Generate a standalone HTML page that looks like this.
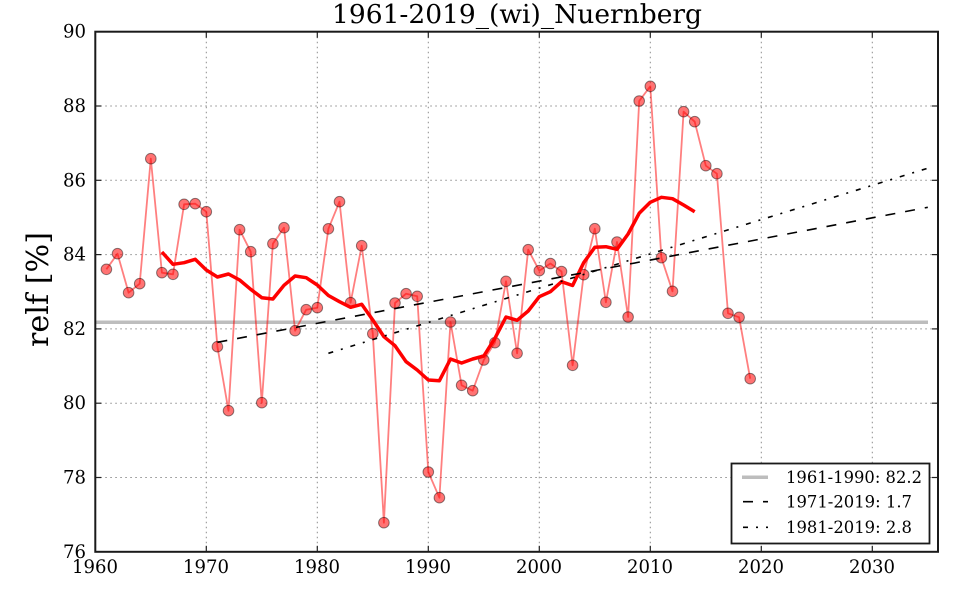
<!DOCTYPE html>
<html>
<head>
<meta charset="utf-8">
<style>
html,body{margin:0;padding:0;background:#fff;}
svg{display:block;}
text{font-family:"DejaVu Serif","Liberation Serif",serif;fill:#000;}
</style>
</head>
<body>
<svg width="960" height="600" viewBox="0 0 960 600" xmlns="http://www.w3.org/2000/svg">
<rect x="0" y="0" width="960" height="600" fill="#fff"/>
<!-- grid -->
<g stroke="#8c8c8c" stroke-width="1" stroke-dasharray="1.5,3.5" fill="none">
<line x1="206.3" y1="31.7" x2="206.3" y2="551.8"/>
<line x1="317.3" y1="31.7" x2="317.3" y2="551.8"/>
<line x1="428.3" y1="31.7" x2="428.3" y2="551.8"/>
<line x1="539.3" y1="31.7" x2="539.3" y2="551.8"/>
<line x1="650.3" y1="31.7" x2="650.3" y2="551.8"/>
<line x1="761.3" y1="31.7" x2="761.3" y2="551.8"/>
<line x1="872.3" y1="31.7" x2="872.3" y2="551.8"/>
<line x1="95.3" y1="106" x2="938" y2="106"/>
<line x1="95.3" y1="180.3" x2="938" y2="180.3"/>
<line x1="95.3" y1="254.6" x2="938" y2="254.6"/>
<line x1="95.3" y1="328.9" x2="938" y2="328.9"/>
<line x1="95.3" y1="403.2" x2="938" y2="403.2"/>
<line x1="95.3" y1="477.5" x2="938" y2="477.5"/>
</g>
<!-- baseline 82.2 -->
<line x1="95.3" y1="322.3" x2="928" y2="322.3" stroke="#bdbdbd" stroke-width="3.5"/>
<!-- data line -->
<polyline fill="none" stroke="#ff0000" stroke-opacity="0.5" stroke-width="1.8" stroke-linejoin="round" points="106.4,269.3 117.5,253.7 128.6,292.7 139.7,283.7 150.8,158.7 161.9,272.7 173.0,274.3 184.1,204.3 195.2,203.7 206.3,211.7 217.4,346.7 228.5,410.7 239.6,229.7 250.7,251.7 261.8,402.7 272.9,243.7 284.0,227.7 295.1,330.7 306.2,309.7 317.3,307.7 328.4,228.8 339.5,201.7 350.6,302.7 361.7,245.7 372.8,333.7 383.9,522.7 395.0,303 406.1,293.7 417.2,296.3 428.3,472 439.4,497.7 450.5,322 461.6,385.3 472.7,390.7 483.8,360 494.9,342.7 506.0,281.3 517.1,353.3 528.2,249.7 539.3,270.7 550.4,263.5 561.5,271.5 572.6,365.3 583.7,274.7 594.8,228.7 605.9,302.3 617.0,242 628.1,317 639.2,101 650.3,86.3 661.4,257.7 672.5,291.3 683.6,111.7 694.7,121.7 705.8,165.7 716.9,173.7 728.0,313.3 739.1,317.3 750.2,378.7"/>
<!-- markers -->
<g fill="#ff0000" fill-opacity="0.55" stroke="#000" stroke-opacity="0.45" stroke-width="1">
<circle cx="106.4" cy="269.3" r="5.3"/><circle cx="117.5" cy="253.7" r="5.3"/><circle cx="128.6" cy="292.7" r="5.3"/><circle cx="139.7" cy="283.7" r="5.3"/><circle cx="150.8" cy="158.7" r="5.3"/><circle cx="161.9" cy="272.7" r="5.3"/><circle cx="173.0" cy="274.3" r="5.3"/><circle cx="184.1" cy="204.3" r="5.3"/><circle cx="195.2" cy="203.7" r="5.3"/><circle cx="206.3" cy="211.7" r="5.3"/>
<circle cx="217.4" cy="346.7" r="5.3"/><circle cx="228.5" cy="410.7" r="5.3"/><circle cx="239.6" cy="229.7" r="5.3"/><circle cx="250.7" cy="251.7" r="5.3"/><circle cx="261.8" cy="402.7" r="5.3"/><circle cx="272.9" cy="243.7" r="5.3"/><circle cx="284.0" cy="227.7" r="5.3"/><circle cx="295.1" cy="330.7" r="5.3"/><circle cx="306.2" cy="309.7" r="5.3"/><circle cx="317.3" cy="307.7" r="5.3"/>
<circle cx="328.4" cy="228.8" r="5.3"/><circle cx="339.5" cy="201.7" r="5.3"/><circle cx="350.6" cy="302.7" r="5.3"/><circle cx="361.7" cy="245.7" r="5.3"/><circle cx="372.8" cy="333.7" r="5.3"/><circle cx="383.9" cy="522.7" r="5.3"/><circle cx="395.0" cy="303" r="5.3"/><circle cx="406.1" cy="293.7" r="5.3"/><circle cx="417.2" cy="296.3" r="5.3"/><circle cx="428.3" cy="472" r="5.3"/>
<circle cx="439.4" cy="497.7" r="5.3"/><circle cx="450.5" cy="322" r="5.3"/><circle cx="461.6" cy="385.3" r="5.3"/><circle cx="472.7" cy="390.7" r="5.3"/><circle cx="483.8" cy="360" r="5.3"/><circle cx="494.9" cy="342.7" r="5.3"/><circle cx="506.0" cy="281.3" r="5.3"/><circle cx="517.1" cy="353.3" r="5.3"/><circle cx="528.2" cy="249.7" r="5.3"/><circle cx="539.3" cy="270.7" r="5.3"/>
<circle cx="550.4" cy="263.5" r="5.3"/><circle cx="561.5" cy="271.5" r="5.3"/><circle cx="572.6" cy="365.3" r="5.3"/><circle cx="583.7" cy="274.7" r="5.3"/><circle cx="594.8" cy="228.7" r="5.3"/><circle cx="605.9" cy="302.3" r="5.3"/><circle cx="617.0" cy="242" r="5.3"/><circle cx="628.1" cy="317" r="5.3"/><circle cx="639.2" cy="101" r="5.3"/><circle cx="650.3" cy="86.3" r="5.3"/>
<circle cx="661.4" cy="257.7" r="5.3"/><circle cx="672.5" cy="291.3" r="5.3"/><circle cx="683.6" cy="111.7" r="5.3"/><circle cx="694.7" cy="121.7" r="5.3"/><circle cx="705.8" cy="165.7" r="5.3"/><circle cx="716.9" cy="173.7" r="5.3"/><circle cx="728.0" cy="313.3" r="5.3"/><circle cx="739.1" cy="317.3" r="5.3"/><circle cx="750.2" cy="378.7" r="5.3"/>
</g>
<!-- moving average -->
<polyline fill="none" stroke="#ff0000" stroke-width="3.5" stroke-linejoin="round" points="161.9,252 173.0,264.3 184.1,262.7 195.2,259.3 206.3,270 217.4,277 228.5,274 239.6,280 250.7,289.3 261.8,297.7 272.9,299 284.0,285.3 295.1,276 306.2,277.7 317.3,285 328.4,295.5 339.5,301.7 350.6,307.3 361.7,304.3 372.8,320 383.9,336.7 395.0,345.7 406.1,361.7 417.2,370 428.3,380 439.4,380.7 450.5,359 461.6,363 472.7,359 483.8,356 494.9,338.3 506.0,317 517.1,320.3 528.2,311 539.3,296.7 550.4,291.7 561.5,281.7 572.6,285.5 583.7,262.7 594.8,247.3 605.9,246.7 617.0,249.3 628.1,234 639.2,213.3 650.3,202.3 661.4,197.3 672.5,198.7 683.6,205 694.7,211.7"/>
<!-- trend lines -->
<line x1="217.4" y1="342.3" x2="927.8" y2="207.3" stroke="#000" stroke-width="1.6" stroke-dasharray="10,10"/>
<line x1="328.4" y1="353.3" x2="927.8" y2="168.2" stroke="#000" stroke-width="1.6" stroke-dasharray="5,8,2,8"/>
<!-- ticks -->
<g stroke="#222" stroke-width="1.2">
<line x1="206.3" y1="551.8" x2="206.3" y2="545.8"/><line x1="317.3" y1="551.8" x2="317.3" y2="545.8"/><line x1="428.3" y1="551.8" x2="428.3" y2="545.8"/><line x1="539.3" y1="551.8" x2="539.3" y2="545.8"/><line x1="650.3" y1="551.8" x2="650.3" y2="545.8"/><line x1="761.3" y1="551.8" x2="761.3" y2="545.8"/><line x1="872.3" y1="551.8" x2="872.3" y2="545.8"/>
<line x1="206.3" y1="31.7" x2="206.3" y2="37.7"/><line x1="317.3" y1="31.7" x2="317.3" y2="37.7"/><line x1="428.3" y1="31.7" x2="428.3" y2="37.7"/><line x1="539.3" y1="31.7" x2="539.3" y2="37.7"/><line x1="650.3" y1="31.7" x2="650.3" y2="37.7"/><line x1="761.3" y1="31.7" x2="761.3" y2="37.7"/><line x1="872.3" y1="31.7" x2="872.3" y2="37.7"/>
<line x1="95.3" y1="106" x2="101.3" y2="106"/><line x1="95.3" y1="180.3" x2="101.3" y2="180.3"/><line x1="95.3" y1="254.6" x2="101.3" y2="254.6"/><line x1="95.3" y1="328.9" x2="101.3" y2="328.9"/><line x1="95.3" y1="403.2" x2="101.3" y2="403.2"/><line x1="95.3" y1="477.5" x2="101.3" y2="477.5"/>
<line x1="938" y1="106" x2="932" y2="106"/><line x1="938" y1="180.3" x2="932" y2="180.3"/><line x1="938" y1="254.6" x2="932" y2="254.6"/><line x1="938" y1="328.9" x2="932" y2="328.9"/><line x1="938" y1="403.2" x2="932" y2="403.2"/><line x1="938" y1="477.5" x2="932" y2="477.5"/>
</g>
<!-- legend -->
<rect x="731.5" y="463.5" width="198" height="80" fill="#fff" stroke="#1a1a1a" stroke-width="1.8"/>
<line x1="742" y1="477.3" x2="768" y2="477.3" stroke="#bdbdbd" stroke-width="3.5"/>
<line x1="743" y1="501.7" x2="768" y2="501.7" stroke="#000" stroke-width="1.6" stroke-dasharray="10,10"/>
<line x1="743" y1="527.3" x2="768" y2="527.3" stroke="#000" stroke-width="1.6" stroke-dasharray="5,8,2,8"/>
<text x="786" y="483" font-size="16.5" textLength="136" lengthAdjust="spacingAndGlyphs">1961-1990: 82.2</text>
<text x="786" y="507.5" font-size="16.5" textLength="126" lengthAdjust="spacingAndGlyphs">1971-2019: 1.7</text>
<text x="786" y="533" font-size="16.5" textLength="126" lengthAdjust="spacingAndGlyphs">1981-2019: 2.8</text>
<!-- spines -->
<rect x="95.3" y="31.7" width="842.7" height="520.1" fill="none" stroke="#1a1a1a" stroke-width="2"/>
<!-- tick labels -->
<g font-size="18.5">
<text x="72" y="573" textLength="46" lengthAdjust="spacingAndGlyphs">1960</text>
<text x="183" y="573" textLength="46" lengthAdjust="spacingAndGlyphs">1970</text>
<text x="294" y="573" textLength="46" lengthAdjust="spacingAndGlyphs">1980</text>
<text x="405" y="573" textLength="46" lengthAdjust="spacingAndGlyphs">1990</text>
<text x="516" y="573" textLength="46" lengthAdjust="spacingAndGlyphs">2000</text>
<text x="627" y="573" textLength="46" lengthAdjust="spacingAndGlyphs">2010</text>
<text x="738" y="573" textLength="46" lengthAdjust="spacingAndGlyphs">2020</text>
<text x="849" y="573" textLength="46" lengthAdjust="spacingAndGlyphs">2030</text>
</g>
<g font-size="18.5">
<text x="63" y="37.7" textLength="23" lengthAdjust="spacingAndGlyphs">90</text>
<text x="63" y="112" textLength="23" lengthAdjust="spacingAndGlyphs">88</text>
<text x="63" y="186.3" textLength="23" lengthAdjust="spacingAndGlyphs">86</text>
<text x="63" y="260.6" textLength="23" lengthAdjust="spacingAndGlyphs">84</text>
<text x="63" y="334.9" textLength="23" lengthAdjust="spacingAndGlyphs">82</text>
<text x="63" y="409.2" textLength="23" lengthAdjust="spacingAndGlyphs">80</text>
<text x="63" y="483.5" textLength="23" lengthAdjust="spacingAndGlyphs">78</text>
<text x="63" y="557.8" textLength="23" lengthAdjust="spacingAndGlyphs">76</text>
</g>
<!-- title -->
<text x="332" y="23" font-size="26" textLength="370" lengthAdjust="spacingAndGlyphs">1961-2019_(wi)_Nuernberg</text>
<!-- y label -->
<text transform="translate(48,347) rotate(-90)" font-size="30" textLength="115" lengthAdjust="spacingAndGlyphs">relf [%]</text>
</svg>
</body>
</html>
